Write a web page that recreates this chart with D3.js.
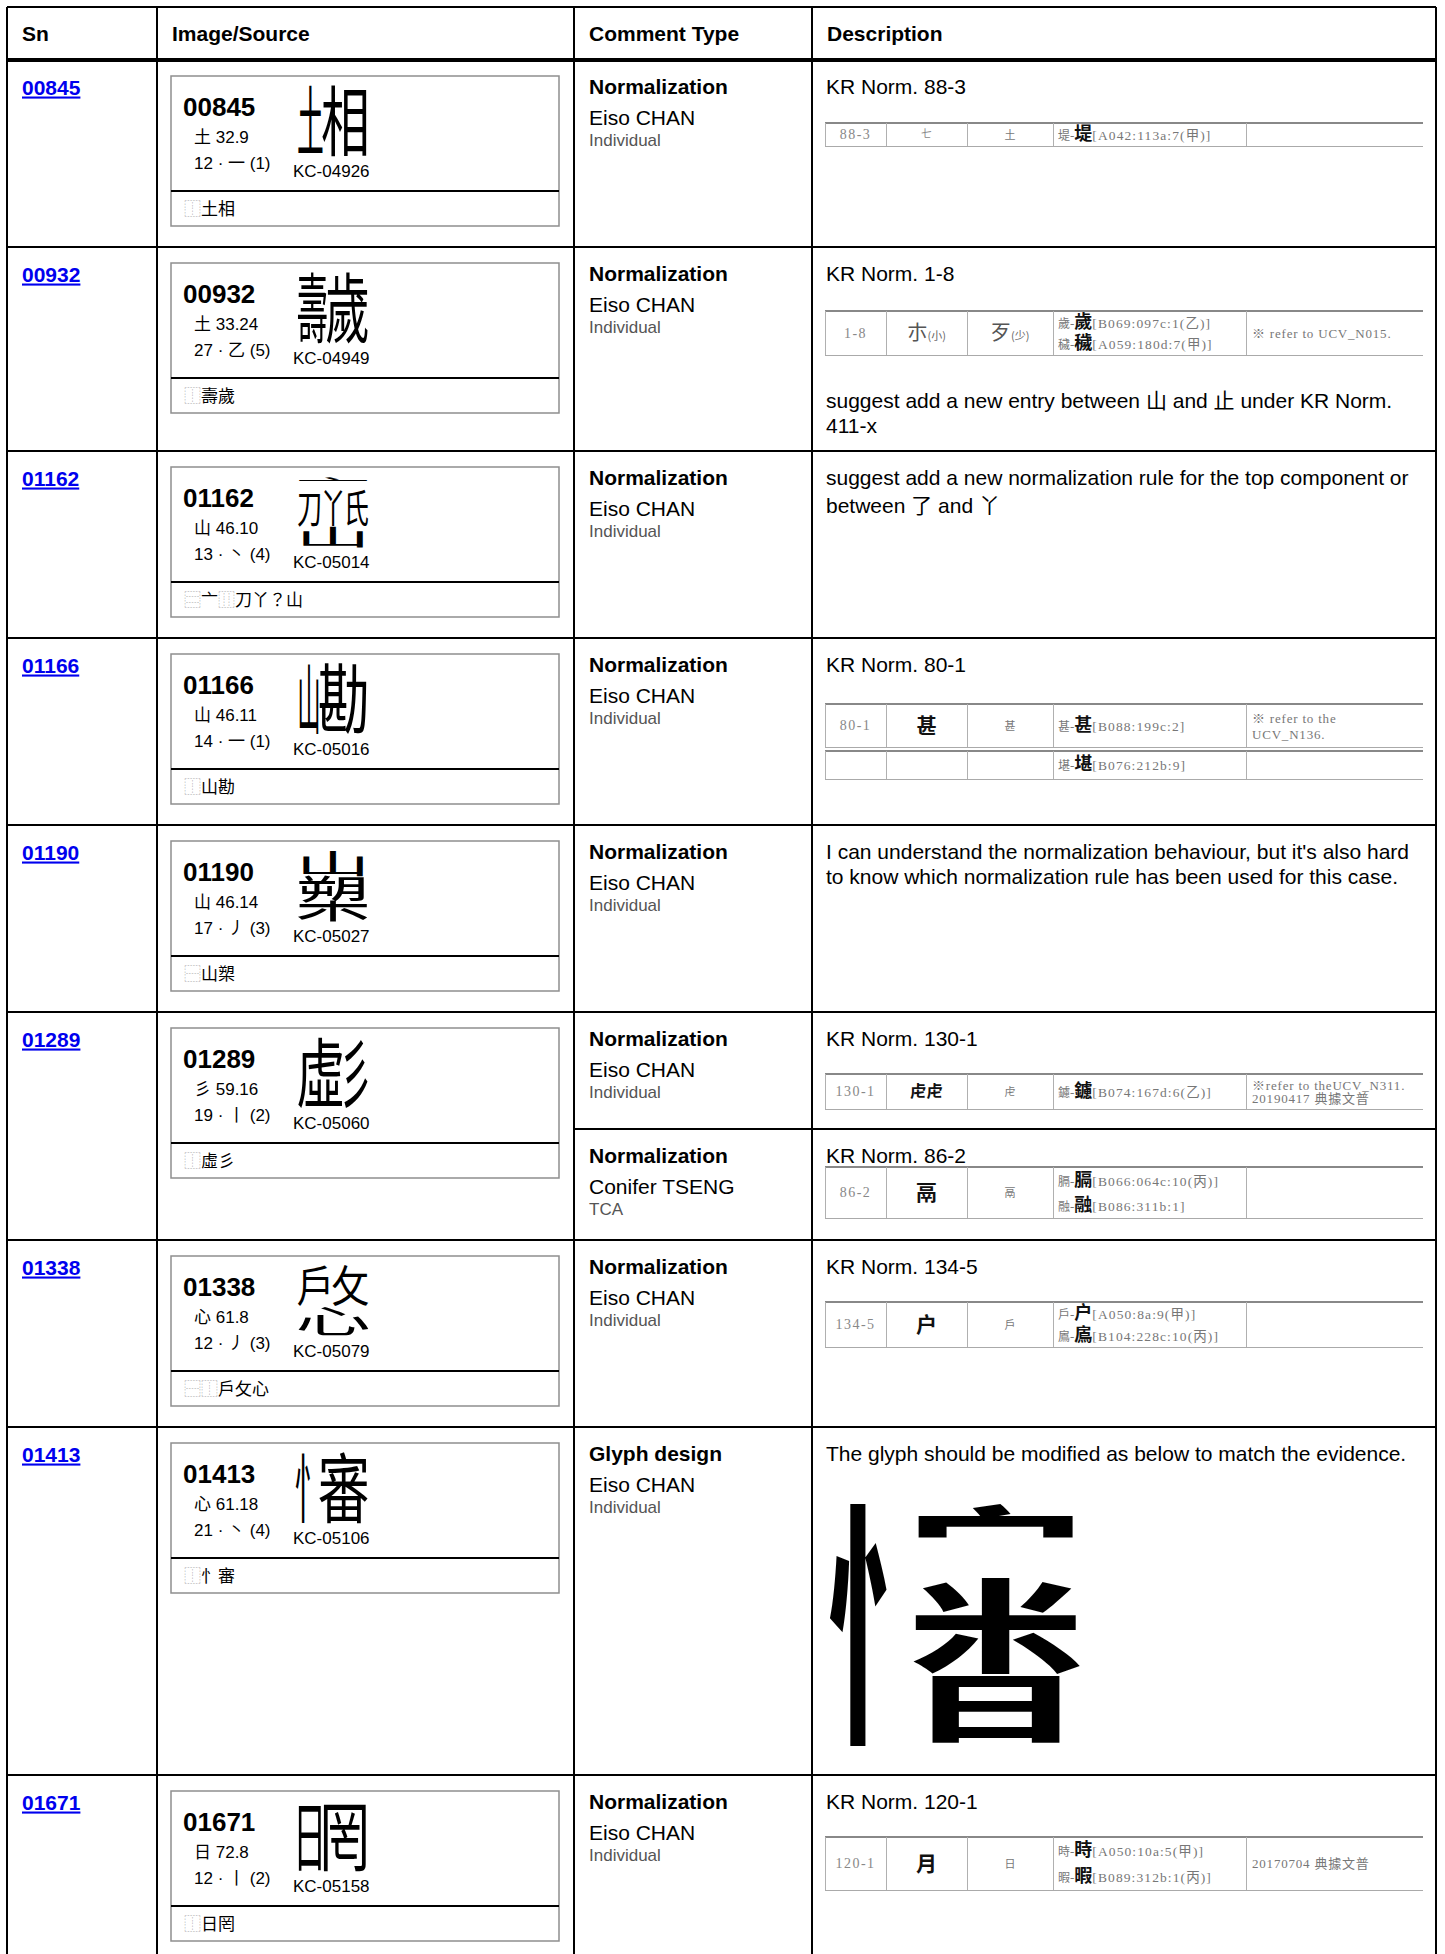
<!DOCTYPE html>
<html>
<head>
<meta charset="utf-8">
<script src="https://cdn.jsdelivr.net/npm/d3@7"></script>
<style>
  html, body { margin: 0; padding: 0; background: #fff; }
  svg { display: block; }
</style>
</head>
<body>
<script>
// ---------------- DATA ----------------
const headers = ["Sn", "Image/Source", "Comment Type", "Description"];
const snList = ["00845", "00932", "01162", "01166", "01190", "01289", "01338", "01413", "01671"];
const radicals = ["土 32.9", "土 33.24", "山 46.10", "山 46.11", "山 46.14", "彡 59.16", "心 61.8", "心 61.18", "日 72.8"];
const strokeInfo = ["12 · 一 (1)", "27 · 乙 (5)", "13 · 丶 (4)", "14 · 一 (1)", "17 · 丿 (3)", "19 · 丨 (2)", "12 · 丿 (3)", "21 · 丶 (4)", "12 · 丨 (2)"];
const kcCodes = ["KC-04926", "KC-04949", "KC-05014", "KC-05016", "KC-05027", "KC-05060", "KC-05079", "KC-05106", "KC-05158"];
const idsList = ["⿰土相", "⿰壽歲", "⿳亠⿲刀丫？山", "⿰山勘", "⿱山槊", "⿰虛彡", "⿱⿰戶攵心", "⿰忄審", "⿰日罔"];
const glyphIds = ["⿰土相", "⿰壽歲", "⿳亠⿲刀丫氏山", "⿰山勘", "⿱山槊", "⿰虛彡", "⿱⿰戶攵心", "⿰忄審", "⿰日罔"];

const commentSn = ["00845", "00932", "01162", "01166", "01190", "01289", "01289", "01338", "01413", "01671"];
const commentTypes = ["Normalization", "Normalization", "Normalization", "Normalization", "Normalization", "Normalization", "Normalization", "Normalization", "Glyph design", "Normalization"];
const commenters = ["Eiso CHAN", "Eiso CHAN", "Eiso CHAN", "Eiso CHAN", "Eiso CHAN", "Eiso CHAN", "Conifer TSENG", "Eiso CHAN", "Eiso CHAN", "Eiso CHAN"];
const commenterOrgs = ["Individual", "Individual", "Individual", "Individual", "Individual", "Individual", "TCA", "Individual", "Individual", "Individual"];
const descHeadings = ["KR Norm. 88-3", "KR Norm. 1-8", "", "KR Norm. 80-1", "", "KR Norm. 130-1", "KR Norm. 86-2", "KR Norm. 134-5", "", "KR Norm. 120-1"];
const descTable = [0, 1, null, 2, null, 3, 4, 5, null, 6];
const descTexts = [
  [],
  ["suggest add a new entry between 山 and 止 under KR Norm.", "411-x"],
  ["suggest add a new normalization rule for the top component or", "between 了 and 丫"],
  [],
  ["I can understand the normalization behaviour, but it's also hard", "to know which normalization rule has been used for this case."],
  [], [], [],
  ["The glyph should be modified as below to match the evidence."],
  []
];
const descGlyph = [null, null, null, null, null, null, null, null, "⿰忄⿱宀⿱米日", null];

// scanned KR normalization table excerpts
const normCodes = ["88-3", "1-8", "80-1", "130-1", "86-2", "134-5", "120-1"];
const normVariants = ["七", "朩(小)", "甚", "虍虍", "鬲", "户", "月"];
const normStandards = ["土", "歹(少)", "甚", "虍", "鬲", "戶", "日"];
const normExamples = [
  ["堤-堤[A042:113a:7(甲)]"],
  ["歲-歲[B069:097c:1(乙)]", "穢-穢[A059:180d:7(甲)]"],
  ["甚-甚[B088:199c:2]"],
  ["鑢-鑢[B074:167d:6(乙)]"],
  ["膈-膈[B066:064c:10(丙)]", "融-融[B086:311b:1]"],
  ["戶-户[A050:8a:9(甲)]", "鳸-鳸[B104:228c:10(丙)]"],
  ["時-時[A050:10a:5(甲)]", "暇-暇[B089:312b:1(丙)]"]
];
const normNotes = [
  [],
  ["※ refer to UCV_N015."],
  ["※ refer to the", "UCV_N136."],
  ["※refer to theUCV_N311.", "20190417 典據文普"],
  [], [],
  ["20170704 典據文普"]
];
const normExtraRows = [[], [], ["堪-堪[B076:212b:9]"], [], [], [], []];

// ---------------- LAYOUT ----------------
const W = 1445, H = 1954;
const SANS = '"Liberation Sans", Arial, "Noto Sans CJK TC", sans-serif';
const CJK = '"Noto Sans CJK TC", "Noto Sans CJK SC", sans-serif';
const SERIF = '"Liberation Serif", "Times New Roman", "Noto Sans CJK TC", serif';

const colEdges = [7, 157, 574, 812, 1436];
const xCol = d3.scaleOrdinal().domain(headers).range(colEdges.slice(0, 4));
const tableTop = 7, headBottom = 60;
const rowHeights = [187, 204, 187, 187, 187, 228, 187, 348, 220];
const rowTops = rowHeights.reduce((a, h) => { a.push(a[a.length - 1] + h); return a; }, [headBottom]);
const yRow = d3.scaleOrdinal().domain(snList).range(rowTops.slice(0, snList.length));
const subRowH = 117;

const normHeights = [23, 44, 43, 35, 51, 45, 53];
const normTopOffset = [63, 64, 66, 62, 38, 62, 62];
const normCols = [13, 74, 155, 241, 434, 611];

const svg = d3.select("body").append("svg")
  .attr("width", W).attr("height", H)
  .attr("font-family", SANS);
svg.append("rect").attr("width", W).attr("height", H).attr("fill", "#fff");

// ---------------- HEADER ----------------
svg.append("g").selectAll("text").data(headers).join("text")
  .attr("x", d => xCol(d) + 15)
  .attr("y", 41)
  .attr("font-size", 21).attr("font-weight", "bold").attr("fill", "#000")
  .text(d => d);

// ---------------- SN LINKS ----------------
svg.append("g").selectAll("text").data(snList).join("text")
  .attr("x", xCol("Sn") + 15)
  .attr("y", d => yRow(d) + 34.5)
  .attr("font-size", 21).attr("font-weight", "bold")
  .attr("fill", "#0000ee")
  .attr("text-decoration", "underline")
  .text(d => d);

// ---------------- IDS GLYPH COMPOSER ----------------
const arity = { "⿰": 2, "⿱": 2, "⿲": 3, "⿳": 3 };
const wH = { "土": 0.55, "壽": 0.7, "山": 0.45, "彡": 0.55, "忄": 0.45, "日": 0.5 };
const wV = { "亠": 0.35, "山": 0.55, "心": 0.75, "宀": 0.45, "日": 0.75 };
const inkX = { "忄": 0.72, "日": 0.68, "彡": 0.75 };
function parseIDS(str) {
  const cs = Array.from(str); let i = 0;
  const p = () => {
    const c = cs[i++];
    if (arity[c]) return { op: c, kids: d3.range(arity[c]).map(p) };
    return { ch: c };
  };
  return p();
}
function drawNode(g, node, b, weight) {
  if (node.ch) {
    const S = 100, k = 1.08;
    const sx = b.w / S * k * (inkX[node.ch] && b.w < b.h * 0.8 ? 0.9 / inkX[node.ch] : 1);
    const sy = b.h / S * k;
    g.append("text")
      .attr("transform", `translate(${b.x + b.w / 2},${b.y + b.h / 2}) scale(${sx},${sy})`)
      .attr("y", S * 0.38)
      .attr("text-anchor", "middle")
      .attr("font-family", CJK)
      .attr("font-weight", weight)
      .attr("font-size", S)
      .attr("fill", "#000")
      .text(node.ch);
    return;
  }
  const horiz = node.op === "⿰" || node.op === "⿲";
  const ws = node.kids.map(k => k.ch ? ((horiz ? wH : wV)[k.ch] || 1) : 1);
  const tot = d3.sum(ws);
  let acc = 0;
  node.kids.forEach((kid, j) => {
    const f0 = acc / tot; acc += ws[j]; const f1 = acc / tot;
    const nb = horiz
      ? { x: b.x + b.w * f0, y: b.y, w: b.w * (f1 - f0), h: b.h }
      : { x: b.x, y: b.y + b.h * f0, w: b.w, h: b.h * (f1 - f0) };
    drawNode(g, kid, nb, weight);
  });
}

// ---------------- IMAGE / SOURCE CARDS ----------------
const cardW = 388, cardH = 150, cardDiv = 115;
const cards = svg.append("g").selectAll("g").data(snList).join("g")
  .attr("transform", d => `translate(${xCol("Image/Source") + 14},${yRow(d) + 16})`);
cards.append("rect")
  .attr("width", cardW).attr("height", cardH)
  .attr("fill", "#fff").attr("stroke", "#8e8e8e").attr("stroke-width", 1.5);
cards.append("line")
  .attr("x1", 0).attr("x2", cardW).attr("y1", cardDiv).attr("y2", cardDiv)
  .attr("stroke", "#000").attr("stroke-width", 2);
cards.append("text")
  .attr("x", 12).attr("y", 39.5)
  .attr("font-size", 26).attr("font-weight", "bold")
  .text(d => d);
cards.append("text")
  .attr("x", 23).attr("y", 67)
  .attr("font-size", 17)
  .text((d, i) => radicals[i]);
cards.append("text")
  .attr("x", 23).attr("y", 93)
  .attr("font-size", 17)
  .text((d, i) => strokeInfo[i]);
cards.append("text")
  .attr("x", 122).attr("y", 101)
  .attr("font-size", 17)
  .text((d, i) => kcCodes[i]);
cards.each(function (d, i) {
  const g = d3.select(this);
  const gg = g.append("g");
  drawNode(gg, parseIDS(glyphIds[i]), { x: 127, y: 10, w: 70, h: 70 }, 400);
  const t = g.append("text").attr("x", 13).attr("y", 139).attr("font-size", 17).attr("font-family", CJK);
  Array.from(idsList[i]).forEach(c => {
    t.append("tspan").attr("fill", arity[c] ? "#9a9a9a" : "#000")
      .attr("font-weight", arity[c] ? 300 : 400).text(c);
  });
});

// ---------------- COMMENTS ----------------
const commentTops = commentSn.map((sn, c) => {
  const prev = commentSn.slice(0, c).filter(s => s === sn).length;
  return yRow(sn) + prev * subRowH;
});
const cg = svg.append("g").selectAll("g").data(commentSn).join("g")
  .attr("transform", (d, c) => `translate(${xCol("Comment Type") + 15},${commentTops[c]})`);
cg.append("text").attr("y", 34).attr("font-size", 21).attr("font-weight", "bold")
  .text((d, c) => commentTypes[c]);
cg.append("text").attr("y", 64.5).attr("font-size", 21)
  .text((d, c) => commenters[c]);
cg.append("text").attr("y", 85.5).attr("font-size", 17).attr("fill", "#555")
  .text((d, c) => commenterOrgs[c]);

// ---------------- DESCRIPTIONS ----------------
function splitMain(s) {
  const k = s.indexOf("(");
  return k < 0 ? [s, ""] : [s.slice(0, k), s.slice(k)];
}
function exampleLine(g, s, x, y) {
  const dash = s.indexOf("-");
  const br = s.indexOf("[");
  const t = g.append("text").attr("x", x).attr("y", y);
  t.append("tspan").attr("font-family", CJK).attr("font-size", 12).attr("fill", "#777").text(s.slice(0, dash));
  t.append("tspan").attr("font-family", SERIF).attr("font-size", 13).attr("fill", "#777").text("-");
  t.append("tspan").attr("font-family", CJK).attr("font-size", 18).attr("font-weight", "bold").attr("fill", "#111").text(s.slice(dash + 1, br));
  t.append("tspan").attr("font-family", SERIF).attr("font-size", 13.5).attr("letter-spacing", 1.1).attr("fill", "#777").text(s.slice(br));
}
function drawNormTable(g, t, top) {
  const h = normHeights[t];
  const cx = normCols;
  const rows = [{ top: top, h: h, ex: [] }];
  normExtraRows[t].forEach((r, k) => rows.push({ top: top + h + 4 + k * 32, h: 28, ex: [r] }));
  const lg = g.append("g").attr("shape-rendering", "crispEdges");
  rows.forEach(r => {
    lg.append("line").attr("x1", cx[0]).attr("x2", cx[5]).attr("y1", r.top).attr("y2", r.top)
      .attr("stroke", "#888").attr("stroke-width", 1.5);
    lg.append("line").attr("x1", cx[0]).attr("x2", cx[5]).attr("y1", r.top + r.h).attr("y2", r.top + r.h)
      .attr("stroke", "#aaa").attr("stroke-width", 1);
    cx.slice(0, 5).forEach(x => lg.append("line").attr("x1", x).attr("x2", x)
      .attr("y1", r.top).attr("y2", r.top + r.h).attr("stroke", "#b0b0b0").attr("stroke-width", 1));
  });
  const mid = top + h / 2;
  g.append("text").attr("x", (cx[0] + cx[1]) / 2).attr("y", mid + 4.5)
    .attr("text-anchor", "middle").attr("font-family", SERIF).attr("font-size", 14)
    .attr("letter-spacing", 1.5).attr("fill", "#888").text(normCodes[t]);
  // variant glyph
  const [vm, vp] = splitMain(normVariants[t]);
  const big = Math.min(21, h * 0.47);
  const small = h < 30;
  const tv = g.append("text").attr("x", (cx[1] + cx[2]) / 2).attr("y", mid + big * 0.36)
    .attr("text-anchor", "middle").attr("font-family", CJK);
  tv.append("tspan").attr("font-size", big).attr("font-weight", (small || vp) ? 400 : 700)
    .attr("fill", small ? "#888" : (vp ? "#555" : "#111")).text(vm);
  if (vp) tv.append("tspan").attr("font-size", 11).attr("fill", "#666").text(vp);
  // standard glyph
  const [sm, sp] = splitMain(normStandards[t]);
  const ts = g.append("text").attr("x", (cx[2] + cx[3]) / 2)
    .attr("text-anchor", "middle").attr("font-family", CJK);
  if (sp) {
    ts.attr("y", mid + big * 0.36);
    ts.append("tspan").attr("font-size", big).attr("fill", "#555").text(sm);
    ts.append("tspan").attr("font-size", 11).attr("fill", "#666").text(sp);
  } else {
    ts.attr("y", mid + 4).append("tspan").attr("font-size", 11).attr("fill", "#777").text(sm);
  }
  // examples
  const ex = normExamples[t];
  const fr = ex.length === 1 ? [0.5] : [0.27, 0.76];
  ex.forEach((s, k) => exampleLine(g, s, cx[3] + 5, top + h * fr[k] + 5));
  rows.slice(1).forEach(r => r.ex.forEach(s => exampleLine(g, s, cx[3] + 5, r.top + r.h / 2 + 5)));
  // notes
  const nt = normNotes[t];
  const nf = nt.length === 1 ? [0.5] : [0.33, 0.7];
  nt.forEach((s, k) => g.append("text").attr("x", cx[4] + 6).attr("y", top + h * nf[k] + 4.5)
    .attr("font-family", SERIF).attr("font-size", 13).attr("letter-spacing", 0.8)
    .attr("fill", "#777").text(s));
  return rows[rows.length - 1].top + rows[rows.length - 1].h;
}

const dg = svg.append("g").selectAll("g").data(commentSn).join("g")
  .attr("transform", (d, c) => `translate(${xCol("Description")},${commentTops[c]})`);
dg.each(function (d, c) {
  const g = d3.select(this);
  let cursor = 34;
  if (descHeadings[c]) {
    g.append("text").attr("x", 14).attr("y", 34).attr("font-size", 21).text(descHeadings[c]);
  }
  if (descTable[c] !== null) {
    const t = descTable[c];
    const bottom = drawNormTable(g, t, normTopOffset[t]);
    cursor = bottom + 52.5;
  }
  const lines = descTexts[c];
  lines.forEach((s, k) => {
    if (k > 0) cursor += 25 + (/[\u3400-\u9fff]/.test(s) ? 2.5 : 0);
    g.append("text").attr("x", 14).attr("y", cursor).attr("font-size", 21).text(s);
  });
  if (descGlyph[c]) {
    drawNode(g.append("g"), parseIDS(descGlyph[c]), { x: 29, y: 79, w: 236, h: 236 }, 900);
  }
});

// ---------------- GRID ----------------
const grid = svg.append("g").attr("stroke", "#000").attr("shape-rendering", "crispEdges");
grid.selectAll("line.v").data(colEdges).join("line").attr("class", "v")
  .attr("x1", d => d).attr("x2", d => d).attr("y1", tableTop).attr("y2", H)
  .attr("stroke-width", 2.5);
grid.append("line").attr("x1", colEdges[0]).attr("x2", colEdges[4])
  .attr("y1", tableTop).attr("y2", tableTop).attr("stroke-width", 2.5);
grid.append("line").attr("x1", colEdges[0]).attr("x2", colEdges[4])
  .attr("y1", headBottom).attr("y2", headBottom).attr("stroke-width", 3.5);
grid.selectAll("line.h").data(snList.slice(1)).join("line").attr("class", "h")
  .attr("x1", colEdges[0]).attr("x2", colEdges[4])
  .attr("y1", d => yRow(d)).attr("y2", d => yRow(d)).attr("stroke-width", 2.5);
// sub-row separators for multiple comments on one Sn
grid.selectAll("line.s").data(commentSn.filter((s, c) => commentTops[c] !== yRow(s))).join("line").attr("class", "s")
  .attr("x1", colEdges[2]).attr("x2", colEdges[4])
  .attr("y1", d => yRow(d) + subRowH).attr("y2", d => yRow(d) + subRowH).attr("stroke-width", 2.5);
</script>
</body>
</html>
